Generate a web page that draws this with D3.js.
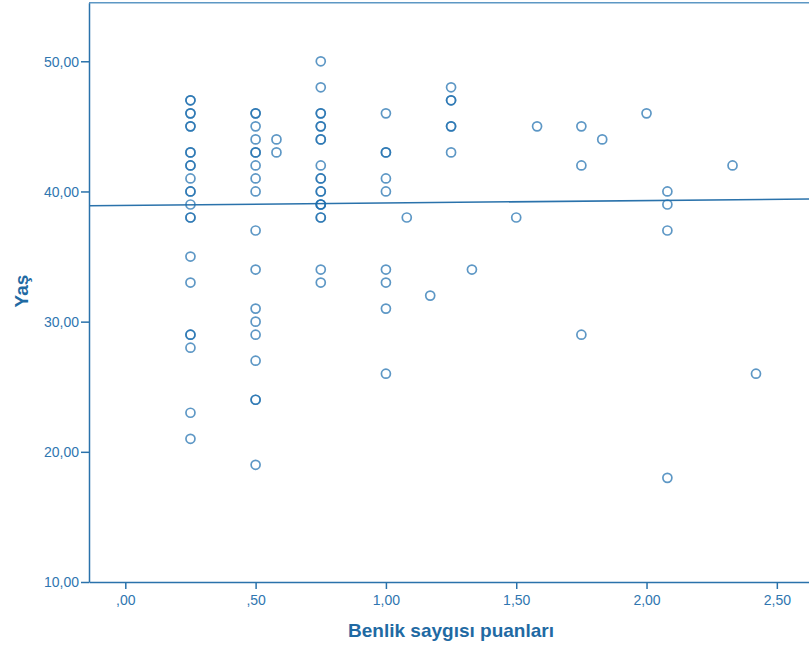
<!DOCTYPE html>
<html>
<head>
<meta charset="utf-8">
<script src="https://cdn.jsdelivr.net/npm/d3@7"></script>
<style>
  body { margin: 0; background: #fff; }
  svg { display: block; font-family: "Liberation Sans", Arial, sans-serif; }
</style>
</head>
<body>
<div id="chart"></div>
<script>
// Benlik saygisi puanlari (x) and Yas (y), one entry per case, duplicates kept
const scores = [
  0.25,0.25,0.25,0.25,0.25,0.25,0.25,0.25,0.25,0.25,0.25,0.25,0.25,0.25,0.25,0.25,0.25,0.25,0.25,0.25,0.25,0.25,0.25,
  0.5,0.5,0.5,0.5,0.5,0.5,0.5,0.5,0.5,0.5,0.5,0.5,0.5,0.5,0.5,0.5,0.5,0.5,
  0.58,0.58,
  0.75,0.75,0.75,0.75,0.75,0.75,0.75,0.75,0.75,0.75,0.75,0.75,0.75,0.75,0.75,0.75,0.75,0.75,0.75,0.75,
  1.0,1.0,1.0,1.0,1.0,1.0,1.0,1.0,1.0,
  1.08, 1.17,
  1.25,1.25,1.25,1.25,1.25,1.25,
  1.33, 1.5, 1.58,
  1.75,1.75,1.75,
  1.83, 2.0,
  2.08,2.08,2.08,2.08,
  2.33, 2.42
];
const ages = [
  47,47,46,46,45,45,43,43,42,42,41,40,40,39,38,38,35,33,29,29,28,23,21,
  46,46,45,44,43,43,42,41,40,37,34,31,30,29,27,24,24,19,
  44,43,
  50,48,46,46,45,45,44,44,42,41,41,40,40,39,39,39,38,38,34,33,
  46,43,43,41,40,34,33,31,26,
  38, 32,
  48,47,47,45,45,43,
  34, 38, 45,
  45,42,29,
  44, 46,
  40,39,37,18,
  42, 26
];

const xTicks = [0, 0.5, 1, 1.5, 2, 2.5];
const yTicks = [10, 20, 30, 40, 50];

// fit line
const fitIntercept = 38.93;
const fitSlope = 0.186;

const width = 809, height = 653;
const plotLeft = 89, plotRight = 809, plotTop = 2.7, plotBottom = 582;

const x = d3.scaleLinear().domain([-0.1393, 2.6234]).range([plotLeft, plotRight]);
const y = d3.scaleLinear().domain([10, 54.5]).range([plotBottom, plotTop]);

const fmt = v => {
  const s = v.toFixed(2).replace(".", ",");
  return s.startsWith("0,") ? s.slice(1) : s;
};

const axisColor = "#2a72ab";
const textColor = "#2f76b0";
const titleColor = "#1f6aa3";

const svg = d3.select("#chart").append("svg")
  .attr("width", width)
  .attr("height", height);

// top frame
svg.append("line")
  .attr("x1", plotLeft).attr("x2", plotRight)
  .attr("y1", plotTop).attr("y2", plotTop)
  .attr("stroke", "#5d97c4").attr("stroke-width", 1.5);

// axes
const xAxis = svg.append("g")
  .attr("transform", `translate(0,${plotBottom})`)
  .call(d3.axisBottom(x).tickValues(xTicks).tickFormat(fmt).tickSize(7).tickSizeOuter(0));
const yAxis = svg.append("g")
  .attr("transform", `translate(${plotLeft},0)`)
  .call(d3.axisLeft(y).tickValues(yTicks).tickFormat(fmt).tickSize(8).tickSizeOuter(0));

[xAxis, yAxis].forEach(g => {
  g.select(".domain").attr("stroke", axisColor).attr("stroke-width", 1.5);
  g.selectAll(".tick line").attr("stroke", axisColor).attr("stroke-width", 1.5);
  g.selectAll(".tick text")
    .attr("fill", textColor)
    .attr("font-size", 14);
});
xAxis.selectAll(".tick text").attr("y", 9).attr("dy", "1em");
yAxis.selectAll(".tick text").attr("x", -10).attr("dy", "0.35em");

// fit line
svg.append("line")
  .attr("x1", x(-0.1393)).attr("x2", x(2.6234))
  .attr("y1", y(fitIntercept + fitSlope * -0.1393))
  .attr("y2", y(fitIntercept + fitSlope * 2.6234))
  .attr("stroke", "#2a72ab").attr("stroke-width", 1.6);

// points
svg.append("g")
  .selectAll("circle")
  .data(scores.map((s, i) => ({ s, a: ages[i] })))
  .enter()
  .append("circle")
  .attr("cx", d => x(d.s))
  .attr("cy", d => y(d.a))
  .attr("r", 4.5)
  .attr("fill", "none")
  .attr("stroke", "#1f6fae")
  .attr("stroke-opacity", 0.72)
  .attr("stroke-width", 1.7);

// titles
svg.append("text")
  .attr("x", (plotLeft + plotRight) / 2 + 2)
  .attr("y", 637)
  .attr("text-anchor", "middle")
  .attr("fill", titleColor)
  .attr("font-size", 19)
  .attr("font-weight", "bold")
  .text("Benlik saygısı puanları");

svg.append("text")
  .attr("transform", `translate(28,291) rotate(-90)`)
  .attr("text-anchor", "middle")
  .attr("fill", titleColor)
  .attr("font-size", 19)
  .attr("font-weight", "bold")
  .text("Yaş");
</script>
</body>
</html>
